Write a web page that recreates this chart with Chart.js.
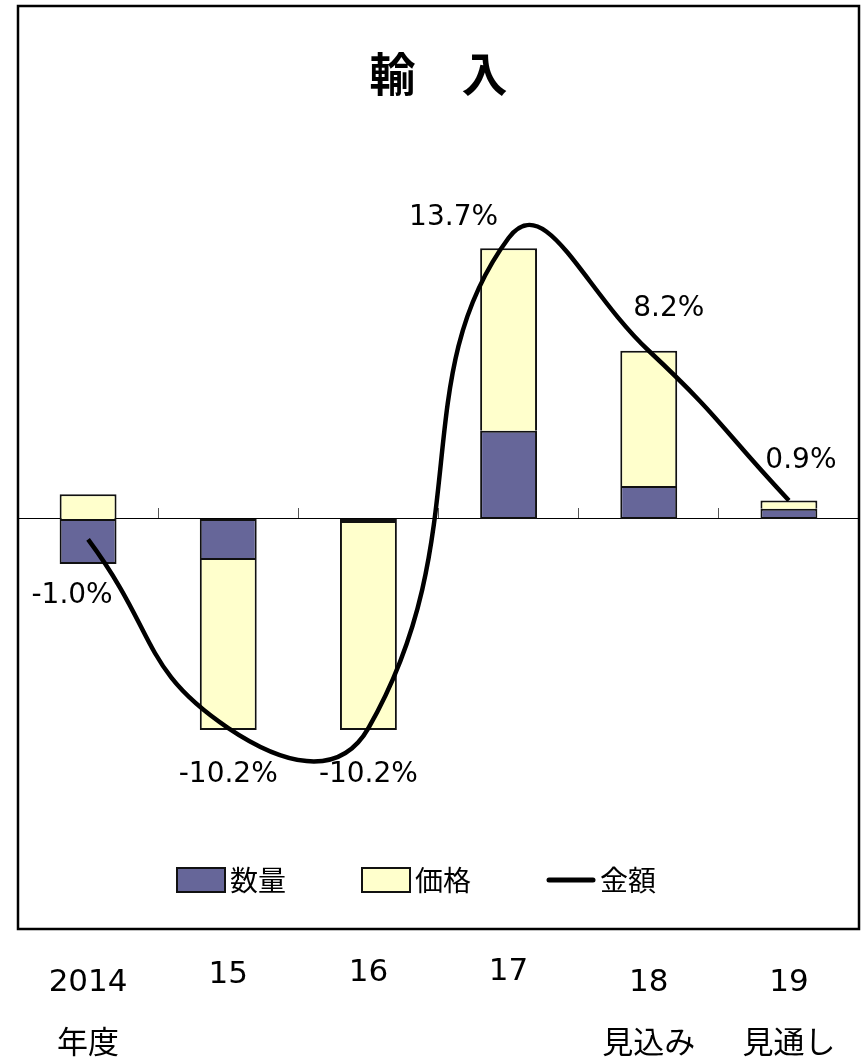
<!DOCTYPE html>
<html><head><meta charset="utf-8">
<script src="https://cdn.jsdelivr.net/npm/chart.js@4.4.1/dist/chart.umd.min.js"></script>
<style>html,body{margin:0;padding:0;background:#fff}canvas{display:block}</style>
</head><body>
<canvas id="c" width="866" height="1061"></canvas>
<script>
// ---- data ----
const categories = [['2014', '年度'], '15', '16', '17', ['18', '見込み'], ['19', '見通し']];
const quantity = [-2.2, -2.0, -0.2, 4.3, 1.6, 0.5];   // 数量
const price    = [1.2, -8.3, -10.1, 8.9, 6.6, 0.4];   // 価格
const amount   = [-1.0, -10.2, -10.2, 13.7, 8.2, 0.9]; // 金額
const seriesNames = ['数量', '価格', '金額'];
const titleText = '輸　入';
const yMin = -20, yMax = 20;

// ---- style ----
const COL_QTY = '#666699', COL_PRICE = '#FFFFCC';
const labelOffsets = [[-16, 56], [0, 47], [0, 47], [-55, -20], [20, -42], [12, -40]];
const tickLineHeights = ['62px', '46px', '42px', '39px', '62px', '62px'];
const LATIN = "'DejaVu Sans', 'Noto Sans CJK JP', sans-serif";
const CJK = "'Noto Sans CJK JP', 'DejaVu Sans', sans-serif";

const valueLabels = {
  id: 'valueLabels',
  afterDatasetsDraw(chart) {
    const meta = chart.getDatasetMeta(2);
    const ctx = chart.ctx;
    ctx.save();
    ctx.font = "28px " + LATIN;
    ctx.fillStyle = '#000';
    ctx.textAlign = 'center';
    ctx.textBaseline = 'middle';
    meta.data.forEach((pt, i) => {
      const v = chart.data.datasets[2].data[i];
      const off = labelOffsets[i];
      ctx.fillText(v.toFixed(1) + '%', pt.x + off[0], pt.y + off[1]);
    });
    ctx.restore();
  }
};

const frameAndLegend = {
  id: 'frameAndLegend',
  afterDraw(chart) {
    const ctx = chart.ctx, a = chart.chartArea;
    ctx.save();
    // legend (inside frame)
    const cy = a.bottom - 49;
    let x = a.left + 159;
    ctx.font = "28px " + CJK;
    ctx.textBaseline = 'middle';
    ctx.textAlign = 'left';
    chart.data.datasets.forEach((ds) => {
      if (ds.type === 'line') {
        ctx.strokeStyle = ds.borderColor; ctx.lineWidth = 5; ctx.lineCap = 'round';
        ctx.beginPath(); ctx.moveTo(x + 2, cy); ctx.lineTo(x + 46, cy); ctx.stroke();
        ctx.lineCap = 'butt';
      } else {
        ctx.fillStyle = ds.backgroundColor;
        ctx.fillRect(x, cy - 12, 48, 24);
        ctx.strokeStyle = '#111'; ctx.lineWidth = 2;
        ctx.strokeRect(x, cy - 12, 48, 24);
      }
      ctx.fillStyle = '#000';
      ctx.fillText(ds.label, x + 53, cy);
      x += 53 + ctx.measureText(ds.label).width + 76;
    });
    // frame
    const top = chart.titleBlock.top;
    ctx.lineWidth = 2.5; ctx.strokeStyle = '#000';
    ctx.strokeRect(a.left, top, a.right - a.left, a.bottom - top);
    ctx.restore();
  }
};

new Chart(document.getElementById('c'), {
  type: 'bar',
  data: {
    labels: categories,
    datasets: [
      { label: seriesNames[0], data: quantity, backgroundColor: COL_QTY, borderColor: '#111',
        borderWidth: 2, borderSkipped: false, stack: 'bars', order: 1,
        barPercentage: 0.406, categoryPercentage: 1 },
      { label: seriesNames[1], data: price, backgroundColor: COL_PRICE, borderColor: '#111',
        borderWidth: 2, borderSkipped: 'start', stack: 'bars', order: 2,
        barPercentage: 0.406, categoryPercentage: 1 },
      { type: 'line', label: seriesNames[2], data: amount, borderColor: '#000', borderWidth: 4.5,
        tension: 0.5, pointRadius: 0, fill: false, stack: 'line', order: 0 }
    ]
  },
  options: {
    responsive: false,
    animation: false,
    events: [],
    layout: { padding: { left: 18, right: 7, top: 6, bottom: 0 } },
    plugins: {
      legend: { display: false },
      tooltip: { enabled: false },
      title: {
        display: true, text: titleText, color: '#000',
        font: { family: CJK, size: 46, weight: 'bold', lineHeight: 1.2 },
        padding: { top: 40.4, bottom: 7.2 }
      }
    },
    scales: {
      x: {
        type: 'category', position: 'bottom', offset: true,
        grid: { display: false, drawTicks: false, offset: true },
        border: { display: false },
        ticks: {
          color: '#000', padding: 23, maxRotation: 0, autoSkip: false,
          font: (c) => ({ family: LATIN, size: 31, lineHeight: tickLineHeights[c.index] })
        },
        afterFit: (s) => { s.height = 132; }
      },
      xz: {
        type: 'category', position: { y: 0 }, offset: true,
        grid: { drawOnChartArea: false, drawTicks: true, tickLength: -11, tickColor: '#555', tickWidth: 1, offset: true },
        border: { display: true, color: '#000', width: 1 },
        ticks: { display: false }
      },
      y: {
        type: 'linear', stacked: true, min: yMin, max: yMax, display: false
      }
    }
  },
  plugins: [valueLabels, frameAndLegend]
});
</script>
</body></html>
